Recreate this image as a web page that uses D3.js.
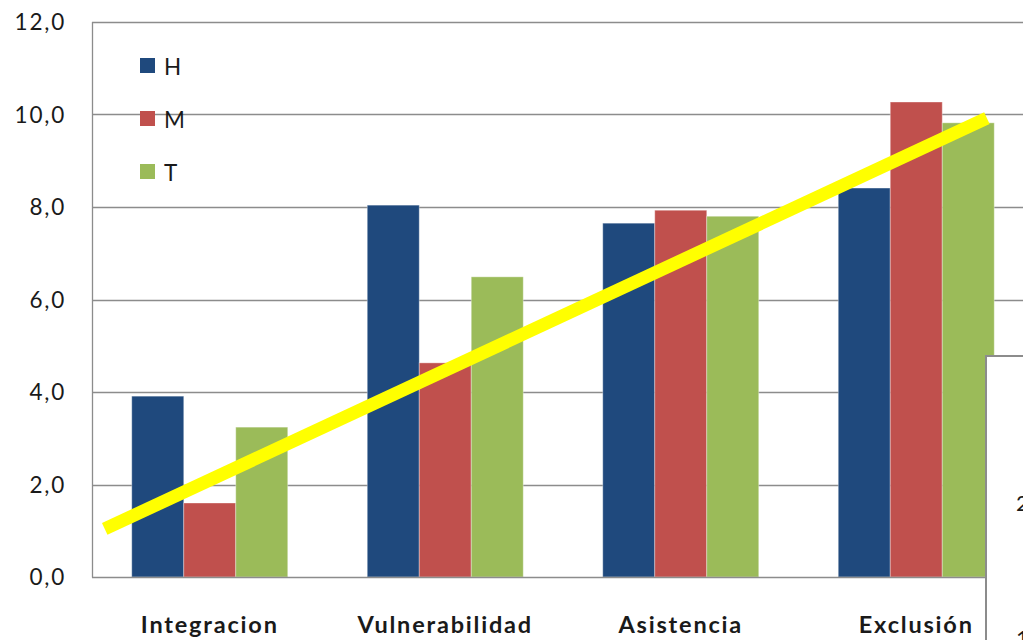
<!DOCTYPE html>
<html>
<head>
<meta charset="utf-8">
<script src="https://cdn.jsdelivr.net/npm/d3@7"></script>
<style>
  html, body { margin: 0; padding: 0; background: #fff; }
  svg { display: block; }
  text { font-family: Lato, "Open Sans", "Liberation Sans", sans-serif; fill: #1a1a1a; }
</style>
</head>
<body>
<svg id="chart" width="1023" height="640"></svg>
<script>
// Category labels and series
const categories = ["Integracion", "Vulnerabilidad", "Asistencia", "Exclusión"];
const seriesNames = ["H", "M", "T"];
const valuesH = [3.91, 8.04, 7.65, 8.41];
const valuesM = [1.60, 4.63, 7.93, 10.27];
const valuesT = [3.24, 6.49, 7.80, 9.82];
const seriesColors = ["#1F497D", "#C0504D", "#9BBB59"];
const yTicks = [0, 2, 4, 6, 8, 10, 12];
// Trend line: position in category units (0 = first group centre) and value
const trendPos = [-0.446, 3.30];
const trendVal = [1.04, 9.92];

const svg = d3.select("#chart");
const W = 1023, H = 640;
const plot = { left: 92, right: 1034, top: 22, bottom: 577 };

const x0 = d3.scaleBand().domain(categories)
  .range([plot.left, plot.right]).paddingInner(0.3376).paddingOuter(0.1688);
const x1 = d3.scaleBand().domain(seriesNames).range([0, x0.bandwidth()]);
const y = d3.scaleLinear().domain([0, 12]).range([plot.bottom, plot.top]);
const step = x0.step();
const xPos = d3.scaleLinear().domain([0, 1])
  .range([x0(categories[0]) + x0.bandwidth() / 2, x0(categories[0]) + x0.bandwidth() / 2 + step]);

const fmt = v => d3.format(".1f")(v).replace(".", ",");

// Gridlines
svg.append("g").selectAll("line").data(yTicks.filter(t => t > 0)).join("line")
  .attr("x1", plot.left).attr("x2", W)
  .attr("y1", d => Math.round(y(d)) + 0.5).attr("y2", d => Math.round(y(d)) + 0.5)
  .attr("stroke", "#8c8c8c").attr("stroke-width", 1.3);

// Y axis labels
const yAxis = d3.axisLeft(y).tickValues(yTicks).tickFormat(fmt).tickSize(0).tickPadding(26);
const gy = svg.append("g").attr("transform", `translate(${plot.left},0)`).call(yAxis);
gy.select(".domain").remove();
gy.selectAll("text").attr("font-size", 22.5).attr("letter-spacing", "1.8px")
  .attr("dy", "0.34em")
  .attr("font-family", "Lato, 'Open Sans', sans-serif").attr("fill", "#1a1a1a");

// Bars
const data = categories.map((c, i) => ({ cat: c, vals: [valuesH[i], valuesM[i], valuesT[i]] }));
const groups = svg.append("g").selectAll("g").data(data).join("g")
  .attr("transform", d => `translate(${x0(d.cat)},0)`);
groups.selectAll("rect").data(d => d.vals.map((v, k) => ({ v, k }))).join("rect")
  .attr("x", d => x1(seriesNames[d.k]))
  .attr("y", d => y(d.v))
  .attr("width", x1.bandwidth())
  .attr("height", d => y(0) - y(d.v))
  .attr("fill", d => seriesColors[d.k])
  .attr("stroke", "rgba(255,255,255,0.35)").attr("stroke-width", 1);

// Axis lines
svg.append("line").attr("x1", plot.left + 0.5).attr("x2", plot.left + 0.5)
  .attr("y1", plot.top).attr("y2", plot.bottom + 0.5)
  .attr("stroke", "#8c8c8c").attr("stroke-width", 1.3);
svg.append("line").attr("x1", plot.left).attr("x2", W)
  .attr("y1", Math.round(y(0)) + 0.5).attr("y2", Math.round(y(0)) + 0.5)
  .attr("stroke", "#8c8c8c").attr("stroke-width", 1.3);

// Category labels
const xAxis = d3.axisBottom(x0).tickSize(0).tickPadding(56);
const gx = svg.append("g").attr("transform", `translate(0,${plot.bottom})`).call(xAxis);
gx.select(".domain").remove();
gx.selectAll("text").attr("font-size", 23.5).attr("font-weight", "bold")
  .attr("letter-spacing", "1.8px").attr("dy", "0")
  .attr("font-family", "Lato, 'Open Sans', sans-serif").attr("fill", "#1a1a1a");

// Trend line
svg.append("line")
  .attr("x1", xPos(trendPos[0])).attr("y1", y(trendVal[0]))
  .attr("x2", xPos(trendPos[1])).attr("y2", y(trendVal[1]))
  .attr("stroke", "#FFFF00").attr("stroke-width", 13).attr("stroke-linecap", "butt");

// Legend
const legend = svg.append("g").attr("transform", "translate(140,58)");
const li = legend.selectAll("g").data(seriesNames).join("g")
  .attr("transform", (d, i) => `translate(0,${i * 53})`);
li.append("rect").attr("width", 15).attr("height", 15).attr("fill", (d, i) => seriesColors[i]);
li.append("text").attr("x", 24).attr("y", 8).attr("dy", "0.38em")
  .attr("font-size", 22.5).attr("letter-spacing", "1.5px").text(d => d);

// Overlapping panel at the lower right
const panel = svg.append("g");
panel.append("rect").attr("x", 986).attr("y", 356).attr("width", 60).attr("height", 300)
  .attr("fill", "#fff").attr("stroke", "#8c8c8c").attr("stroke-width", 2);
panel.append("text").attr("x", 1016).attr("y", 511).attr("font-size", 22).text("2");
panel.append("text").attr("x", 1016).attr("y", 646).attr("font-size", 22).text("1");
</script>
</body>
</html>
